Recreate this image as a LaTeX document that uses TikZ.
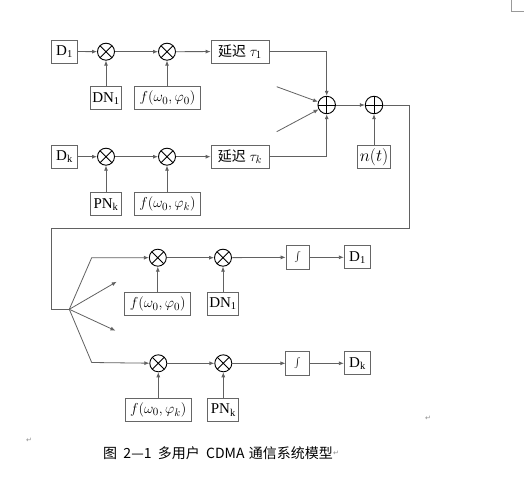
\documentclass[tikz,border=0pt]{standalone}
\usepackage{fontspec}
\setmainfont{Liberation Serif}
\newfontfamily\cjk{Noto Sans CJK SC}
\newfontfamily\dejavu{DejaVu Sans}
\usetikzlibrary{arrows.meta}
\begin{document}
\begin{tikzpicture}[x=1pt,y=-1pt,
  line/.style={draw=black!62, line width=0.8pt},
  arr/.style={line, -{Latex[length=5pt,width=4pt]}},
  blk/.style={draw=black!60, line width=0.8pt, rectangle, minimum height=23pt, inner sep=1pt, font=\fontsize{15}{17}\selectfont},
  mult/.style={circle, draw=black, line width=0.9pt, minimum size=17pt, inner sep=0pt,
    path picture={\draw[line width=0.9pt] (path picture bounding box.north west)--(path picture bounding box.south east)
      (path picture bounding box.north east)--(path picture bounding box.south west);}},
  summ/.style={circle, draw=black, line width=0.9pt, minimum size=17.5pt, inner sep=0pt,
    path picture={\draw[line width=0.9pt] (path picture bounding box.north)--(path picture bounding box.south)
      (path picture bounding box.west)--(path picture bounding box.east);}},
  retmark/.style={font=\dejavu\fontsize{7}{8}\selectfont, text=black!45, inner sep=0pt}
]
\useasboundingbox (0,0) rectangle (524,476);
% ---- transmitter 1
\node[blk, minimum width=25.6pt] (d1) at (64.5,51.5) {D\textsubscript{1}};
\node[mult] (m11) at (106,51.7) {};
\node[mult] (m12) at (167,51.7) {};
\node[blk, minimum width=58pt] (del1) at (240,51.5) {{\cjk\fontsize{14}{16}\selectfont 延迟} $\tau_1$};
\node[blk, minimum width=31pt] (dn1) at (106,98.3) {DN\textsubscript{1}};
\node[blk, minimum width=65.7pt] (f1) at (167.5,98.3) {$f(\omega_0,\varphi_0)$};
% ---- transmitter k
\node[blk, minimum width=25.6pt] (dk) at (64.5,156.7) {D\textsubscript{k}};
\node[mult] (mk1) at (106,156.7) {};
\node[mult] (mk2) at (167,156.7) {};
\node[blk, minimum width=58pt] (delk) at (240,156.7) {{\cjk\fontsize{14}{16}\selectfont 延迟} $\tau_k$};
\node[blk, minimum width=31pt] (pnk) at (106,204.3) {PN\textsubscript{k}};
\node[blk, minimum width=65.7pt] (fk) at (167.5,204.3) {$f(\omega_0,\varphi_k)$};
% ---- channel
\node[summ] (sum1) at (326.7,105) {};
\node[summ] (sum2) at (374,105) {};
\node[blk, minimum width=33.3pt, font=\fontsize{16}{18}\selectfont] (nt) at (374,156.7) {$n(t)$};
\coordinate (a1) at (276.7,86.7);
\coordinate (a2) at (276.7,131.7);
\coordinate (c1) at (409.3,228);
\coordinate (c2) at (51.7,228);
\coordinate (c3) at (51.7,309.3);
\coordinate (sp) at (69.3,309.3);
% ---- receiver 1
\coordinate (b1) at (91.7,257.7);
\node[mult] (r11) at (157.8,257.7) {};
\node[mult] (r12) at (223,257.7) {};
\node[blk, minimum width=23.3pt, minimum height=23.3pt, font=\fontsize{17}{19}\selectfont] (i1) at (297.7,257.3) {$\int$};
\node[blk, minimum width=26.5pt] (o1) at (357.5,257.3) {D\textsubscript{1}};
\node[blk, minimum width=66pt] (fr1) at (157.8,304.3) {$f(\omega_0,\varphi_0)$};
\node[blk, minimum width=31pt] (dnr1) at (223,303.5) {DN\textsubscript{1}};
% ---- receiver k
\coordinate (b2) at (91.7,362.5);
\node[mult] (r21) at (158.3,363.3) {};
\node[mult] (r22) at (223.3,363.3) {};
\node[blk, minimum width=23.3pt, minimum height=23.3pt, font=\fontsize{17}{19}\selectfont] (i2) at (297.5,363.3) {$\int$};
\node[blk, minimum width=26.5pt] (o2) at (357.5,363.3) {D\textsubscript{k}};
\node[blk, minimum width=66pt] (fr2) at (158.3,410) {$f(\omega_0,\varphi_k)$};
\node[blk, minimum width=31pt] (pnr) at (223.3,410) {PN\textsubscript{k}};
\coordinate (t1) at (116.7,281.7);
\coordinate (t2) at (115.5,330.7);
% ---- connectors transmitter
\draw[arr] (d1) -- (m11);
\draw[arr] (m11) -- (m12);
\draw[arr] (m12) -- (del1);
\draw[arr] (dn1) -- (m11);
\draw[arr] (f1.north -| m12) -- (m12);
\draw[arr] (dk) -- (mk1);
\draw[arr] (mk1) -- (mk2);
\draw[arr] (mk2) -- (delk);
\draw[arr] (pnk) -- (mk1);
\draw[arr] (fk.north -| mk2) -- (mk2);
\draw[arr] (del1.east) -| (sum1);
\draw[arr] (delk.east) -| (sum1);
\draw[arr] (a1) -- (sum1);
\draw[arr] (a2) -- (sum1);
\draw[arr] (sum1) -- (sum2);
\draw[arr] (nt) -- (sum2);
\draw[line] (sum2.east) -| (c1) -- (c2) -- (c3) -- (sp);
% ---- connectors receiver
\draw[arr] (sp) -- (b1) -- (r11);
\draw[arr] (sp) -- (b2) -- (r21);
\draw[arr] (sp) -- (t1);
\draw[arr] (sp) -- (t2);
\draw[arr] (r11) -- (r12);
\draw[arr] (r12) -- (i1);
\draw[arr] (i1) -- (o1);
\draw[arr] (fr1.north -| r11) -- (r11);
\draw[arr] (dnr1) -- (r12);
\draw[arr] (r21) -- (r22);
\draw[arr] (r22) -- (i2);
\draw[arr] (i2) -- (o2);
\draw[arr] (fr2) -- (r21);
\draw[arr] (pnr) -- (r22);
% ---- caption and marks
\node[anchor=west, inner sep=0pt, font=\cjk\fontsize{14}{16}\selectfont] (cap) at (103,453) {图\hspace{0.45em}2—1\hspace{0.45em}多用户\hspace{0.45em}CDMA\hspace{0.3em}通信系统模型};
\node[retmark, anchor=west] (rm1) at (cap.east) {↵};
\node[retmark] (rm2) at (29,440) {↵};
\node[retmark] (rm3) at (428,418) {↵};
\draw[black!40, line width=0.6pt] (511,0) -- (511,11) -- (524,11);
\end{tikzpicture}
\end{document}
